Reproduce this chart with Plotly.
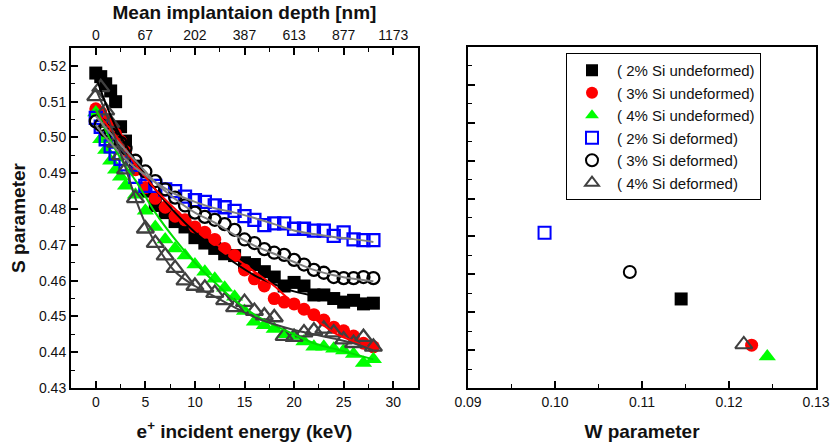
import plotly.graph_objects as go

# ---------------- data ----------------
energy = [0, 0.5, 1, 1.5, 2, 2.5, 3, 4, 5, 6, 7, 8, 9, 10, 11, 12, 13, 14, 15,
          16, 17, 18, 19, 20, 21, 22, 23, 24, 25, 26, 27, 28]

s_2_undef = [0.518, 0.517, 0.515, 0.513, 0.510, 0.503, 0.499, 0.492, 0.485, 0.481,
             0.479, 0.4765, 0.475, 0.472, 0.4705, 0.469, 0.4675, 0.467, 0.465, 0.4645,
             0.4625, 0.461, 0.4585, 0.4595, 0.4585, 0.456, 0.456, 0.455, 0.454, 0.4545,
             0.4535, 0.4537]
s_3_undef = [0.508, 0.507, 0.505, 0.503, 0.501, 0.499, 0.496, 0.491, 0.486, 0.483,
             0.4805, 0.478, 0.477, 0.475, 0.4735, 0.4715, 0.469, 0.467, 0.463, 0.4605,
             0.4585, 0.455, 0.454, 0.4535, 0.452, 0.4505, 0.449, 0.447, 0.446, 0.4445,
             0.4425, 0.4415]
s_4_undef = [0.507, 0.4995, 0.4965, 0.4935, 0.491, 0.489, 0.4865, 0.484, 0.4795, 0.475,
             0.4715, 0.469, 0.467, 0.4645, 0.4625, 0.4605, 0.458, 0.4555, 0.4515, 0.4485,
             0.4475, 0.4465, 0.445, 0.4445, 0.443, 0.4415, 0.4415, 0.441, 0.4405, 0.4395,
             0.437, 0.438]
s_2_def = [0.5055, 0.503, 0.4995, 0.4975, 0.4955, 0.494, 0.4925, 0.489, 0.4865, 0.4865,
           0.4855, 0.485, 0.4835, 0.4825, 0.482, 0.481, 0.4805, 0.4795, 0.478, 0.477,
           0.4755, 0.476, 0.476, 0.4745, 0.4745, 0.474, 0.474, 0.4725, 0.4735, 0.4715,
           0.4713, 0.4713]
s_3_def = [0.5045, 0.5035, 0.502, 0.501, 0.4995, 0.4985, 0.497, 0.4935, 0.4905, 0.4878,
           0.4855, 0.4832, 0.481, 0.479, 0.4778, 0.477, 0.4758, 0.4742, 0.4715, 0.4705,
           0.4688, 0.4678, 0.4672, 0.4658, 0.4645, 0.463, 0.4622, 0.461, 0.4607, 0.4607,
           0.461, 0.4607]
s_4_def = [0.5115, 0.514, 0.5075, 0.504, 0.4985, 0.495, 0.491, 0.483, 0.4745, 0.4705,
           0.467, 0.4635, 0.46, 0.4585, 0.458, 0.4565, 0.4545, 0.4525, 0.454, 0.4515,
           0.4502, 0.4497, 0.4445, 0.4442, 0.4455, 0.446, 0.4465, 0.4455, 0.4435, 0.4425,
           0.4442, 0.4415]

# fit curves
fit_e = [0, 1, 2, 3, 4, 5, 6, 8, 10, 12, 14, 16, 18, 20, 22, 24, 26, 28]
fit_2_undef = [0.517, 0.5095, 0.503, 0.498, 0.4935, 0.4895, 0.4855, 0.479, 0.4735, 0.469,
               0.465, 0.4615, 0.459, 0.457, 0.4558, 0.455, 0.4542, 0.4535]
fit_3_undef = [0.5075, 0.504, 0.5005, 0.4965, 0.4925, 0.489, 0.4855, 0.48, 0.475, 0.4705,
               0.4665, 0.4625, 0.4585, 0.4535, 0.4495, 0.4455, 0.443, 0.4406]
fit_4_undef = [0.508, 0.502, 0.4965, 0.492, 0.488, 0.4835, 0.479, 0.4715, 0.465, 0.4595,
               0.4545, 0.4505, 0.4475, 0.445, 0.4425, 0.441, 0.4395, 0.438]
fit_2_def = [0.5035, 0.5, 0.497, 0.494, 0.4915, 0.4895, 0.4875, 0.4842, 0.482, 0.4802,
             0.479, 0.4775, 0.4758, 0.474, 0.473, 0.4722, 0.4716, 0.4708]
fit_3_def = [0.506, 0.5027, 0.4995, 0.4965, 0.4935, 0.4905, 0.4875, 0.4828, 0.479, 0.4762,
             0.4728, 0.4698, 0.4675, 0.4652, 0.463, 0.4615, 0.4605, 0.4598]
fit_4_def = [0.5135, 0.507, 0.4995, 0.4915, 0.483, 0.476, 0.4705, 0.4625, 0.4585, 0.4555,
             0.4525, 0.4498, 0.4478, 0.4462, 0.445, 0.4438, 0.4425, 0.4405]

# W-S points (right panel)
w_vals = [0.1145, 0.1226, 0.1244, 0.0988, 0.1086, 0.1217]
s_vals = [0.4535, 0.4413, 0.4383, 0.4710, 0.4606, 0.4415]

labels = ["( 2% Si undeformed)", "( 3% Si undeformed)", "( 4% Si undeformed)",
          "( 2% Si deformed)", "( 3% Si deformed)", "( 4% Si deformed)"]
depth_ticks = ["0", "67", "202", "387", "613", "877", "1173"]
energy_ticks = [0, 5, 10, 15, 20, 25, 30]

# ---------------- styles ----------------
symbols = ["square", "circle", "triangle-up", "square-open", "circle-open", "triangle-up-open"]
colors = ["#000000", "#ff0000", "#00ff00", "#0000ff", "#000000", "#404040"]
sizes = [13, 13, 15, 12, 12, 15]
series = [s_2_undef, s_3_undef, s_4_undef, s_2_def, s_3_def, s_4_def]
fits = [fit_2_undef, fit_3_undef, fit_4_undef, fit_2_def, fit_3_def, fit_4_def]
fit_colors = ["#000000", "#ff0000", "#00dd00", "#808080", "#808080", "#404040"]

FONT = "Liberation Sans, Arial, sans-serif"
fig = go.Figure()

for i in range(6):
    fig.add_trace(go.Scatter(
        x=energy, y=series[i], mode="markers", name=labels[i],
        marker=dict(symbol=symbols[i], color=colors[i], size=sizes[i],
                    line=dict(width=2.3 if "open" in symbols[i] else 0, color=colors[i])),
        xaxis="x", yaxis="y", showlegend=True))

for i in range(6):
    fig.add_trace(go.Scatter(
        x=fit_e, y=fits[i], mode="lines", showlegend=False,
        line=dict(color=fit_colors[i], width=2, shape="spline", smoothing=0.8),
        xaxis="x", yaxis="y", hoverinfo="skip"))

rsizes = [13, 13, 15, 12, 12, 15]
for i in range(6):
    fig.add_trace(go.Scatter(
        x=[w_vals[i]], y=[s_vals[i]], mode="markers", showlegend=False,
        marker=dict(symbol=symbols[i], color=colors[i], size=rsizes[i],
                    line=dict(width=2 if "open" in symbols[i] else 0, color=colors[i])),
        xaxis="x2", yaxis="y2"))

fig.add_trace(go.Scatter(x=[0], y=[0.43], xaxis="x3", yaxis="y", showlegend=False,
                         mode="markers", marker=dict(opacity=0), hoverinfo="skip"))

tickfont = dict(family=FONT, size=14, color="#111111")
titlefont = dict(family=FONT, size=19, color="#111111", weight="bold")
axis_common = dict(showline=True, linecolor="#000000", linewidth=2, ticks="inside",
                   ticklen=7, tickwidth=1.5, tickcolor="#000000", showgrid=False,
                   zeroline=False, tickfont=tickfont, automargin=False)
minor_common = dict(ticks="inside", ticklen=4, tickwidth=1.2, tickcolor="#000000")

L_DOM = [71 / 832, 418 / 832]
R_DOM = [468 / 832, 816 / 832]
Y_DOM = [1 - 388 / 443, 1 - 48 / 443]

fig.update_layout(
    width=832, height=443, margin=dict(l=0, r=0, t=0, b=0),
    paper_bgcolor="white", plot_bgcolor="white",
    font=dict(family=FONT),
    xaxis=dict(domain=L_DOM, range=[-2.5, 32.5], tickvals=energy_ticks, anchor="y",
               mirror=False, minor=dict(dtick=2.5, **minor_common),
               title=dict(text="e<sup>+</sup> incident energy (keV)", font=titlefont, standoff=16),
               **axis_common),
    xaxis3=dict(overlaying="x", side="top", anchor="y", range=[-2.5, 32.5],
                tickvals=energy_ticks, ticktext=depth_ticks,
                minor=dict(dtick=2.5, **minor_common),
                title=dict(text="Mean implantaion depth [nm]", font=titlefont, standoff=3),
                **axis_common),
    yaxis=dict(domain=Y_DOM, range=[0.43, 0.525], dtick=0.01, tickformat=".2f", anchor="x",
               mirror=True, minor=dict(dtick=0.005, **minor_common),
               title=dict(text="S parameter", font=titlefont, standoff=8),
               **axis_common),
    xaxis2=dict(domain=R_DOM, range=[0.09, 0.13], dtick=0.01, tickformat=".2f", anchor="y2",
                mirror=True, minor=dict(dtick=0.005, **minor_common),
                title=dict(text="W parameter", font=titlefont, standoff=16),
                **axis_common),
    yaxis2=dict(domain=[1 - 388 / 443, 1 - 47 / 443], range=[0.43, 0.52], dtick=0.01,
                anchor="x2", mirror=True, showticklabels=False,
                minor=dict(dtick=0.005, **minor_common),
                **axis_common),
    legend=dict(x=566 / 832, y=1 - 53 / 443, xanchor="left", yanchor="top",
                bgcolor="white", bordercolor="#000000", borderwidth=1,
                font=dict(family=FONT, size=15, color="#111111"),
                itemsizing="constant", itemwidth=40, tracegroupgap=0,
                entrywidthmode="pixels", entrywidth=195),
)

fig.write_html("out.html")
